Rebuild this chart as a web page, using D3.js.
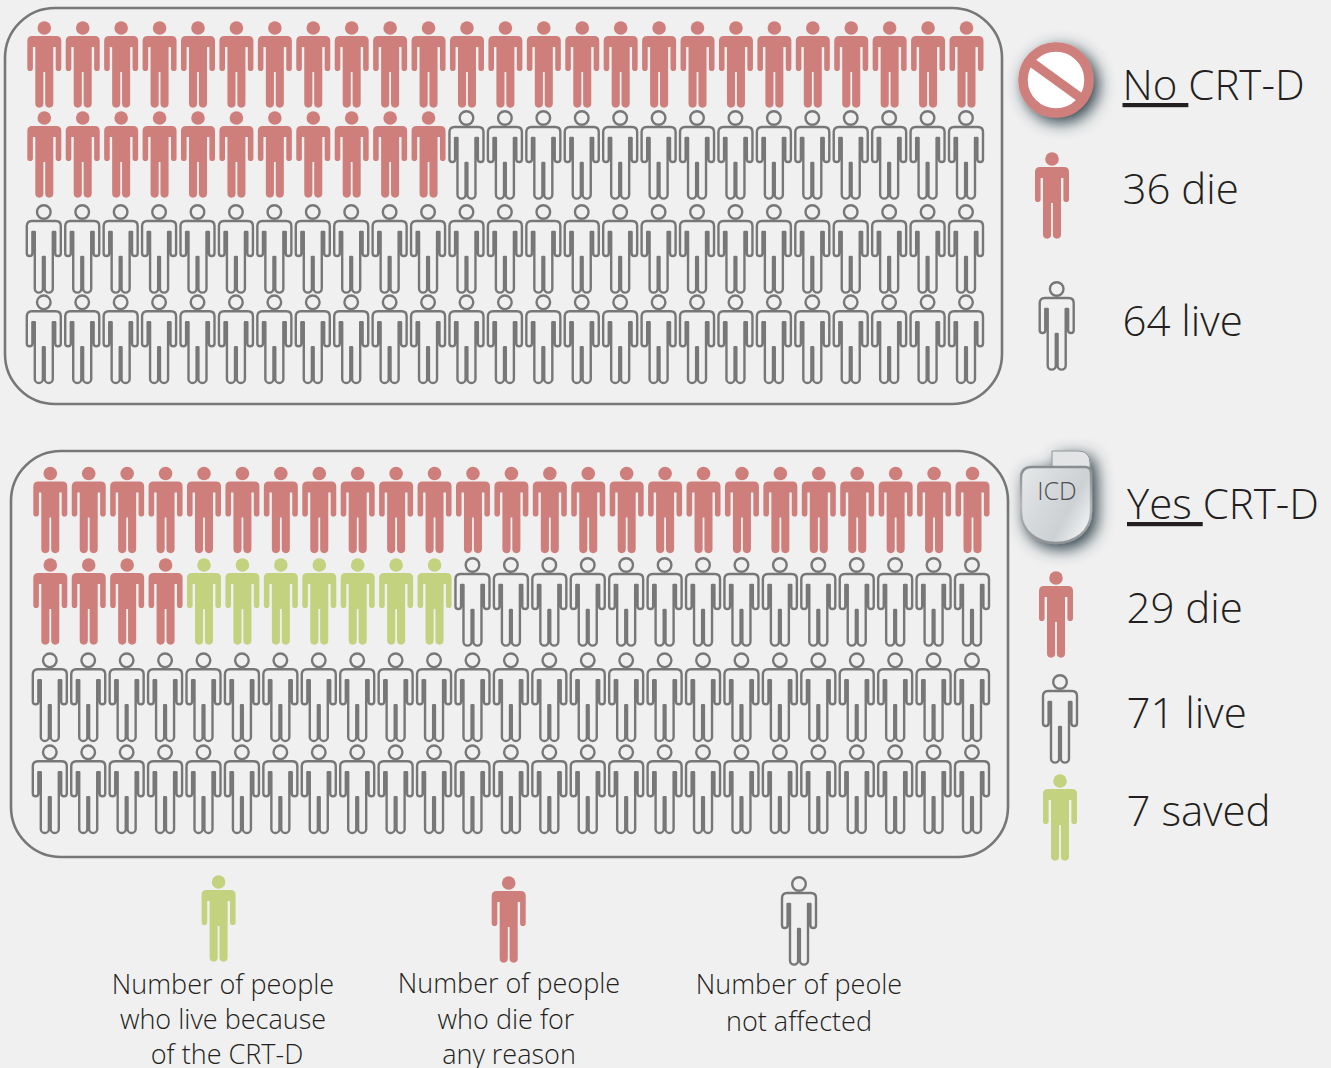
<!DOCTYPE html>
<html lang="en">
<head>
  <meta charset="UTF-8">
  <title>CRT-D outcomes per 100 people</title>
  <style>
    html, body { margin: 0; padding: 0; background: #f0f0f0; }
    svg { display: block; }
    text { font-family: "Open Sans", sans-serif; fill: #231f20; }
    .side { font-size: 42px; font-weight: 300; }
    .note { font-size: 27px; font-weight: 300; text-anchor: middle; }
    .panel { fill: none; stroke: #777; stroke-width: 2.6; }
  </style>
</head>
<body>
  <script src="https://d3js.org/d3.v7.min.js"></script>
  <script>
    // icons per 100 people, filled in this order
    const kinds = ['die', 'saved', 'unaffected'];
    const noCrtCounts = [36, 0, 64];
    const yesCrtCounts = [29, 7, 64];

    const noCrtLabels = ['36 die', '64 live'];
    const yesCrtLabels = ['29 die', '71 live', '7 saved'];
    const noteLines = [
      ['Number of people', 'who live because', 'of the CRT-D'],
      ['Number of people', 'who die for', 'any reason'],
      ['Number of peole', 'not affected']
    ];

    const width = 1331;
    const height = 1068;

    const svg = d3.select('body').append('svg')
      .attr('width', width)
      .attr('height', height);

    const defs = svg.append('defs');

    const shadow = defs.append('filter').attr('id', 'shadow')
      .attr('x', '-60%').attr('y', '-60%').attr('width', '220%').attr('height', '220%');
    shadow.append('feDropShadow')
      .attr('dx', 5).attr('dy', 5).attr('stdDeviation', 8)
      .attr('flood-color', '#2c3c46').attr('flood-opacity', 1);

    const metal = defs.append('linearGradient').attr('id', 'metal')
      .attr('x1', 0).attr('y1', 0).attr('x2', 1).attr('y2', 0.6);
    metal.append('stop').attr('offset', 0).attr('stop-color', '#e6e8e9');
    metal.append('stop').attr('offset', 0.45).attr('stop-color', '#d6d9dc');
    metal.append('stop').attr('offset', 0.75).attr('stop-color', '#cdd1d4');
    metal.append('stop').attr('offset', 1).attr('stop-color', '#e9ebec');

    const rim = defs.append('linearGradient').attr('id', 'rim')
      .attr('x1', 0).attr('y1', 0).attr('x2', 0).attr('y2', 1);
    rim.append('stop').attr('offset', 0).attr('stop-color', '#8a8d90');
    rim.append('stop').attr('offset', 0.5).attr('stop-color', '#b4b7b9');
    rim.append('stop').attr('offset', 1).attr('stop-color', '#8f9396');

    const color = d3.scaleOrdinal().domain(kinds).range(['#cf7f7b', '#c3d27e', 'none']);

    // body outline, origin at the centre of the head
    const bodyPath = 'M-12,8 H12 Q17,8 17,13 V40.2 A2.8,2.8 0 0 1 11.4,40.2 V19 H9 V75.6 A4.05,4.05 0 0 1 0.9,75.6 V44 H-0.9 V75.6 A4.05,4.05 0 0 1 -9,75.6 V19 H-11.4 V40.2 A2.8,2.8 0 0 1 -17,40.2 V13 Q-17,8 -12,8 Z';

    function person(parent, kind, x, y) {
      const g = parent.append('g').attr('transform', `translate(${x},${y})`);
      const filled = kind !== 'unaffected';
      g.append('circle')
        .attr('r', 6.8)
        .attr('fill', filled ? color(kind) : 'none')
        .attr('stroke', filled ? 'none' : '#777')
        .attr('stroke-width', 2.4);
      g.append('path')
        .attr('d', bodyPath)
        .attr('transform', filled ? null : 'translate(0,1)')
        .attr('fill', filled ? color(kind) : 'none')
        .attr('stroke', filled ? 'none' : '#777')
        .attr('stroke-width', 2.4)
        .attr('stroke-linejoin', 'round');
    }

    const columns = d3.range(25);
    const rows = d3.range(4);

    function drawPanel(counts, box, xRange, rowHeads) {
      svg.append('rect').attr('class', 'panel')
        .attr('x', box[0]).attr('y', box[1])
        .attr('width', box[2]).attr('height', box[3])
        .attr('rx', 50).attr('ry', 50);

      const x = d3.scalePoint().domain(columns).range(xRange);
      const y = d3.scaleOrdinal().domain(rows).range(rowHeads);
      const list = kinds.flatMap((k, i) => d3.range(counts[i]).map(() => k));
      const g = svg.append('g');
      list.forEach((k, i) => {
        const dx = k === 'unaffected' ? -0.5 : 0;
        person(g, k, x(i % 25) + dx, y(Math.floor(i / 25)));
      });
    }

    drawPanel(noCrtCounts, [5, 8, 997, 396], [44.3, 966.5], [28, 118, 212, 302.3]);
    drawPanel(yesCrtCounts, [11, 451, 997, 406], [50.3, 972.5], [473.5, 565, 660.3, 752.3]);

    // side headings
    function heading(word, x, y) {
      const t = svg.append('text').attr('class', 'side').attr('x', x).attr('y', y);
      t.append('tspan').attr('text-decoration', 'underline').style('white-space', 'pre').text(word + ' ');
      t.append('tspan').text('CRT-D');
    }
    heading('No', 1122.5, 100);
    heading('Yes', 1127, 519);

    // side legend, no CRT-D
    person(svg, 'die', 1052, 159);
    person(svg, 'unaffected', 1056.7, 289);
    [204, 336].forEach((y, i) => {
      svg.append('text').attr('class', 'side').attr('x', 1122.5).attr('y', y).text(noCrtLabels[i]);
    });

    // side legend, CRT-D
    person(svg, 'die', 1056, 578);
    person(svg, 'unaffected', 1060, 682);
    person(svg, 'saved', 1060, 781);
    [623, 728, 826].forEach((y, i) => {
      svg.append('text').attr('class', 'side').attr('x', 1126.5).attr('y', y).text(yesCrtLabels[i]);
    });

    // no-entry badge
    const badge = svg.append('g').attr('transform', 'translate(1056,80)');
    badge.append('circle').attr('r', 33).attr('fill', '#fff')
      .attr('stroke', '#cf7f7b').attr('stroke-width', 9.5).attr('filter', 'url(#shadow)');
    badge.append('line')
      .attr('x1', -29).attr('y1', -21).attr('x2', 29).attr('y2', 21)
      .attr('stroke', '#cf7f7b').attr('stroke-width', 9.5);

    // device icon
    const icd = svg.append('g').attr('filter', 'url(#shadow)');
    icd.append('path')
      .attr('d', 'M1052,468 V451 H1078 Q1090,451 1090,463 V468 Z')
      .attr('fill', '#e2e4e5').attr('stroke', '#8f9396').attr('stroke-width', 1);
    icd.append('path')
      .attr('d', 'M1032,467 H1085 Q1091,467 1091,473 V512 C1091,532 1074,543 1056,543 C1038,543 1021,532 1021,512 V478 Q1021,467 1032,467 Z')
      .attr('fill', 'url(#metal)').attr('stroke', 'url(#rim)').attr('stroke-width', 2.4);
    svg.append('text').attr('x', 1057).attr('y', 500)
      .attr('text-anchor', 'middle')
      .style('font-size', '25px').style('font-weight', 300).style('fill', '#4d4f52')
      .text('ICD');

    // bottom key
    person(svg, 'saved', 218.6, 882);
    person(svg, 'die', 508.7, 883);
    person(svg, 'unaffected', 799, 884);
    const noteX = [[223, 223, 227], [509, 506, 509], [799, 799]];
    const noteY = [[994, 1029, 1064], [993, 1029, 1064], [994, 1031]];
    noteLines.forEach((lines, i) => {
      lines.forEach((line, j) => {
        svg.append('text').attr('class', 'note')
          .attr('x', noteX[i][j]).attr('y', noteY[i][j]).text(line);
      });
    });
  </script>
</body>
</html>
